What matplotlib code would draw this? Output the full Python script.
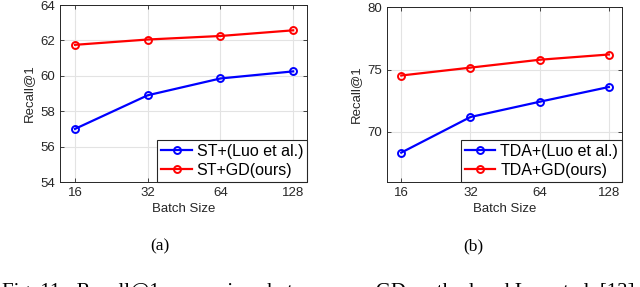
import numpy as np
import matplotlib.pyplot as plt

plt.rc('font', family=['Liberation Sans', 'DejaVu Sans'])
plt.rc('xtick', labelsize=9.5)
plt.rc('ytick', labelsize=9.5)
plt.rcParams['axes.labelsize'] = 9.5

batch = [16, 32, 64, 128]
st_luo = [57.0, 58.9, 59.85, 60.25]
st_gd = [61.75, 62.05, 62.25, 62.57]
tda_luo = [68.35, 71.2, 72.42, 73.6]
tda_gd = [74.52, 75.15, 75.78, 76.2]

panels = [
    dict(luo=st_luo, gd=st_gd, names=['ST+(Luo et al.)', 'ST+GD(ours)'],
         ylim=(54, 64), yticks=[54, 56, 58, 60, 62, 64], tag='(a)'),
    dict(luo=tda_luo, gd=tda_gd, names=['TDA+(Luo et al.)', 'TDA+GD(ours)'],
         ylim=(66, 80), yticks=[70, 75, 80], tag='(b)'),
]
rects = [[60/640, 105/287, 247/640, 177/287], [387/640, 105/287, 235/640, 175/287]]
tag_x = [160/640, 473/640]

fig = plt.figure(figsize=(6.4, 2.87), dpi=100)
dark = '#262626'
for p, r, tx in zip(panels, rects, tag_x):
    ax = fig.add_axes(r)
    ax.plot(batch, p['luo'], '-o', color='b', lw=1.6, ms=5, mfc='none', mew=1.4, label=p['names'][0])
    ax.plot(batch, p['gd'], '-o', color='r', lw=1.6, ms=5, mfc='none', mew=1.4, label=p['names'][1])
    ax.set_xscale('log', base=2)
    ax.set_xlim(13.87, 146)
    ax.set_xticks(batch)
    ax.set_xticklabels([str(b) for b in batch])
    ax.minorticks_off()
    ax.set_ylim(*p['ylim'])
    ax.set_yticks(p['yticks'])
    ax.grid(True, color='#e3e3e3', lw=0.8)
    ax.set_axisbelow(True)
    ax.tick_params(direction='in', length=3, colors=dark, top=True, right=True, width=0.6)
    for s in ax.spines.values():
        s.set_color(dark)
        s.set_linewidth(0.7)
    ax.set_xlabel('Batch Size', color=dark, labelpad=3)
    ax.set_ylabel('Recall@1', color=dark, labelpad=4)
    leg = ax.legend(loc='lower right', borderaxespad=0, fancybox=False, framealpha=1,
                    edgecolor=dark, fontsize=11.5, handlelength=1.9, labelspacing=0.25,
                    handletextpad=0.3, borderpad=0.25)
    leg.get_frame().set_linewidth(0.8)
    fig.text(tx, 1 - 246/287, p['tag'], ha='center', va='center', fontsize=12.5, family='Liberation Serif')

# caption is cut off at the bottom edge in the original
fig.text(0.003, 1 - 297/287, 'Fig. 11:  Recall@1 comparison between our GD method and Luo et al. [13]',
         ha='left', va='baseline', fontsize=15, family='Liberation Serif')
fig.savefig('out.png', dpi=100)
